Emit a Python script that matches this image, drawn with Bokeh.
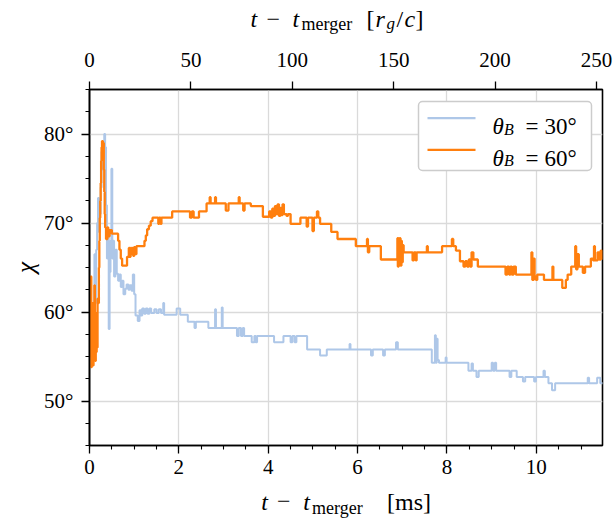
from bokeh.plotting import figure
from bokeh.layouts import column
from bokeh.models import (Range1d, LinearAxis, FixedTicker, SingleIntervalTicker,
                          PrintfTickFormatter, Label, BoxAnnotation, Arrow)
from bokeh.embed import file_html
from bokeh.resources import INLINE

# ---------------- data (step series, value holds until next time) ----------------
t30 = [0.05, 0.07, 0.09, 0.11, 0.13, 0.15, 0.17, 0.19, 0.21, 0.23, 0.25, 0.27, 0.29, 0.31,
       0.33, 0.35, 0.37, 0.39, 0.41, 0.43, 0.45, 0.47, 0.49, 0.51, 0.53, 0.55, 0.58, 0.61,
       0.64, 0.67, 0.70, 0.73, 0.76, 0.80, 0.83, 0.87, 0.90, 0.94, 0.97, 1.00, 1.03, 1.08,
       1.12, 1.15, 1.18, 1.22, 1.26, 1.30, 1.34, 1.38, 1.45, 1.50, 1.55, 1.60, 1.65, 1.67,
       1.95, 2.03, 2.20, 2.35, 2.38, 2.66, 2.81, 2.83, 2.96, 2.98, 3.30, 3.34, 3.39, 3.43,
       3.46, 3.63, 3.69, 3.72, 3.75, 4.13, 4.34, 4.50, 4.54, 4.59, 4.63, 4.87, 5.16, 5.31,
       5.82, 5.84, 6.30, 6.34, 6.57, 6.61, 6.86, 6.90, 7.66, 7.73, 7.75, 7.77, 7.79, 7.82,
       7.97, 7.99, 8.48, 8.55, 8.58, 8.66, 8.71, 9.00, 9.03, 9.07, 9.10, 9.40, 9.44, 9.56,
       9.70, 9.75, 9.95, 9.99, 10.16, 10.19, 10.27, 10.35, 10.42, 11.15, 11.18, 11.36,
       11.43, 11.50]
chi30 = [59.0, 61.0, 58.5, 66.5, 61.0, 67.0, 70.0, 72.8, 69.0, 71.0, 74.0, 78.0, 76.0, 79.0,
         80.0, 78.5, 72.0, 66.0, 69.0, 58.1, 64.5, 68.0, 76.1, 66.0, 68.0, 64.0, 67.0, 64.3,
         63.5, 64.2, 62.8, 63.5, 62.0, 62.6, 63.1, 62.5, 63.0, 62.4, 64.2, 62.0, 59.6, 59.0,
         60.2, 59.6, 60.4, 59.8, 60.4, 59.8, 60.4, 59.9, 60.3, 59.9, 60.3, 59.9, 61.0, 59.7,
         60.4, 59.7, 58.9, 58.2, 58.9, 58.2, 60.3, 58.2, 60.5, 58.2, 57.3, 58.2, 57.3, 58.2,
         57.3, 56.6, 57.3, 56.6, 57.3, 56.6, 57.3, 56.6, 57.3, 56.6, 57.3, 55.8, 55.1, 55.8,
         56.4, 55.8, 55.1, 55.8, 55.1, 55.8, 56.6, 55.8, 54.3, 57.4, 54.3, 57.0, 54.6, 54.3,
         54.9, 54.3, 53.4, 54.2, 53.4, 52.7, 53.4, 54.3, 53.4, 54.3, 53.4, 52.7, 53.4, 52.7,
         52.2, 52.7, 52.2, 52.7, 53.4, 52.7, 52.0, 51.2, 52.0, 52.6, 52.0, 52.6,
         52.0, 52.0]

t60 = [0.00, 0.01, 0.02, 0.03, 0.04, 0.05, 0.06, 0.07, 0.08, 0.09, 0.10, 0.11, 0.12, 0.13,
       0.14, 0.15, 0.16, 0.17, 0.18, 0.20, 0.21, 0.22, 0.23, 0.24, 0.25, 0.26, 0.27, 0.28,
       0.30, 0.31, 0.32, 0.33, 0.34, 0.35, 0.37, 0.40, 0.42, 0.45, 0.50, 0.64, 0.67, 0.70,
       0.73, 0.84, 0.88, 0.90, 0.92, 0.94, 0.96, 0.98, 1.00, 1.02, 1.05, 1.23, 1.26, 1.29,
       1.33, 1.37, 1.41, 1.54, 1.56, 1.59, 1.61, 1.85, 2.25, 2.29, 2.33, 2.45, 2.62, 2.69,
       2.71, 2.81, 2.83, 3.05, 3.11, 3.34, 3.36, 3.44, 3.47, 3.61, 3.88, 4.02, 4.06, 4.09,
       4.12, 4.15, 4.18, 4.21, 4.24, 4.27, 4.30, 4.32, 4.35, 4.41, 4.44, 4.50, 4.72, 4.86,
       4.89, 4.99, 5.02, 5.09, 5.12, 5.16, 5.41, 5.55, 5.96, 6.21, 6.23, 6.26, 6.52, 6.89,
       6.90, 6.92, 6.93, 6.95, 6.96, 6.98, 6.99, 7.01, 7.03, 7.23, 7.26, 7.30, 7.32, 7.55,
       7.57, 7.89, 8.11, 8.14, 8.20, 8.29, 8.37, 8.41, 8.45, 8.49, 8.52, 8.55, 8.59, 8.69,
       9.31, 9.35, 9.39, 9.42, 9.45, 9.49, 9.54, 9.89, 9.91, 9.94, 9.96, 9.99, 10.02, 10.17,
       10.36, 10.38, 10.58, 10.66, 10.70, 10.78, 10.87, 10.89, 10.92, 10.95, 11.04, 11.09,
       11.22, 11.27, 11.29, 11.31, 11.37, 11.41, 11.44, 11.47, 11.50]
chi60 = [58.0, 62.5, 55.0, 64.0, 53.8, 60.0, 56.5, 61.0, 54.0, 58.0, 55.0, 63.0, 56.0, 54.5,
         59.0, 55.5, 60.0, 56.0, 61.5, 61.0, 65.0, 68.0, 70.6, 72.5, 74.5, 77.0, 78.5, 79.2,
         78.0, 79.0, 76.0, 73.5, 71.0, 69.5, 68.2, 69.5, 68.5, 69.2, 68.8, 68.0, 67.0, 66.0,
         65.2, 66.2, 67.2, 66.2, 67.2, 66.5, 67.2, 66.3, 67.3, 66.5, 67.4, 68.0, 68.6, 69.3,
         69.7, 70.2, 70.6, 69.9, 70.6, 69.9, 70.6, 71.3, 70.6, 71.3, 70.6, 71.3, 72.2, 72.9,
         72.2, 72.9, 72.2, 71.4, 72.2, 72.9, 72.2, 71.4, 72.2, 71.9, 70.7, 71.3, 70.6, 71.6,
         70.8, 71.9, 71.0, 72.1, 70.8, 71.7, 70.9, 72.1, 71.0, 70.8, 71.0, 69.9, 70.6, 69.6,
         70.6, 69.1, 70.6, 71.3, 70.6, 69.9, 69.0, 68.2, 67.4, 68.2, 66.7, 67.4, 65.9, 68.3,
         65.1, 68.3, 65.5, 68.3, 65.2, 68.0, 65.6, 67.5, 66.7, 65.8, 66.7, 65.8, 66.7, 67.4,
         66.7, 67.4, 68.2, 67.4, 66.9, 65.7, 65.1, 65.7, 65.1, 65.9, 65.1, 66.7, 65.9, 65.1,
         64.2, 65.1, 64.2, 65.1, 64.2, 65.1, 64.2, 66.7, 63.6, 66.0, 64.0, 63.6, 64.2, 63.6,
         65.1, 63.6, 62.7, 63.6, 64.2, 65.1, 67.4, 64.8, 66.5, 65.1, 64.4, 65.1,
         66.0, 65.8, 67.4, 65.8, 66.7, 65.9, 66.9, 66.0, 66.7]

series_labels = ["30°", "60°"]
series_colors = ["#aec7e8", "#ff7f0e"]
x_tick_interval_ms = 2
top_ticks = [0, 50, 100, 150, 200, 250]
y_ticks = [50, 60, 70, 80]
y_minor = [45, 47.5, 52.5, 55, 57.5, 62.5, 65, 67.5, 72.5, 75, 77.5, 82.5, 85]
x_max_ms = 11.48
rg_per_ms = 22.04

FONT = "Liberation Serif"
W = 615
H_TOP, H_MAIN, H_BOT = 40, 446, 38
FRAME_L, FRAME_R, FRAME_T, FRAME_H = 89, 602, 89, 356  # page pixels of the plot frame

# ---------------- main plot ----------------
p = figure(width=W, height=H_MAIN, x_range=Range1d(0, x_max_ms), y_range=Range1d(45, 85),
           output_backend="svg", toolbar_location=None, title_location=None,
           min_border_left=FRAME_L, min_border_right=W - FRAME_R,
           min_border_top=FRAME_T - H_TOP, min_border_bottom=H_MAIN - (FRAME_T - H_TOP) - FRAME_H)
p.extra_x_ranges = {"top": Range1d(0, x_max_ms * rg_per_ms)}
p.outline_line_color = "black"
p.outline_line_width = 1.6
p.outline_line_alpha = 1.0

bottom = p.below[0]
left = p.left[0]
bottom.ticker = SingleIntervalTicker(interval=x_tick_interval_ms, num_minor_ticks=4)
left.ticker = FixedTicker(ticks=y_ticks, minor_ticks=y_minor)
left.formatter = PrintfTickFormatter(format="%d°")
left.axis_label = "χ"
left.axis_label_text_font = FONT
left.axis_label_text_font_style = "italic"
left.axis_label_text_font_size = "25px"
left.axis_label_text_color = "black"
left.axis_label_standoff = 2

top = LinearAxis(x_range_name="top", ticker=FixedTicker(ticks=top_ticks, minor_ticks=[]))
p.add_layout(top, "above")

for ax in (bottom, left, top):
    ax.axis_line_width = 1.6
    ax.axis_line_color = "black"
    ax.major_tick_out = 8
    ax.major_tick_in = 0
    ax.minor_tick_out = 4
    ax.minor_tick_in = 0
    ax.major_tick_line_width = 1.3
    ax.minor_tick_line_width = 1.1
    ax.major_tick_line_color = "black"
    ax.minor_tick_line_color = "black"
    ax.major_label_text_font = FONT
    ax.major_label_text_font_size = "21px"
    ax.major_label_text_color = "black"
bottom.major_label_standoff = 6
left.major_label_standoff = 8
top.major_label_standoff = 15

p.xgrid.grid_line_color = "#dadada"
p.xgrid.grid_line_width = 1.3
p.ygrid.grid_line_color = "#dadada"
p.ygrid.grid_line_width = 1.3

r30 = p.step(t30, chi30, mode="after", line_color=series_colors[0], line_width=2.0)
r60 = p.step(t60, chi60, mode="after", line_color=series_colors[1], line_width=2.3)


def sx(x_abs):
    return x_abs - FRAME_L


def sy(y_abs):
    return FRAME_H - (y_abs - FRAME_T)


# ---------------- legend (box, sample lines, texts) ----------------
p.add_layout(BoxAnnotation(left=sx(418), right=sx(591), top=sy(101), bottom=sy(170),
                           left_units="screen", right_units="screen",
                           top_units="screen", bottom_units="screen",
                           fill_color="white", fill_alpha=1.0, line_color="#cccccc",
                           line_width=1.5, line_alpha=1.0, border_radius=4,
                           level="annotation"))


def lbl(text, x_abs, y_abs, size, style="normal"):
    p.add_layout(Label(x=sx(x_abs), y=sy(y_abs), x_units="screen", y_units="screen",
                       text=text, text_font=FONT, text_font_size=f"{size}px",
                       text_font_style=style, text_align="left", text_baseline="alphabetic",
                       text_color="black", level="overlay"))


for i, (lab, col) in enumerate(zip(series_labels, series_colors)):
    yc = 117.7 + 31.6 * i
    p.add_layout(Arrow(x_start=sx(427), y_start=sy(yc), x_end=sx(475), y_end=sy(yc),
                       start_units="screen", end_units="screen", start=None, end=None,
                       line_color=col, line_width=2.2, level="overlay"))
    base = yc + 8.3
    lbl("θ", 492, base, 23, "italic")
    lbl("B", 503.5, base + 2.5, 16, "italic")
    lbl("=", 525, base, 23)
    lbl(lab, 544, base, 23)


# ---------------- strips for the composite axis titles ----------------
# (the column layout aligns the strips' frames with the main frame: page x 89..602)
def strip(h):
    s = figure(width=W, height=h, x_range=Range1d(FRAME_L, FRAME_R), y_range=Range1d(h, 0),
               output_backend="svg", toolbar_location=None, title_location=None,
               x_axis_type=None, y_axis_type=None, min_border=0, min_border_left=FRAME_L,
               min_border_right=W - FRAME_R, min_border_top=0, min_border_bottom=0,
               outline_line_color=None)
    s.xgrid.visible = False
    s.ygrid.visible = False
    return s


def piece(s, text, x, y, size, style="normal"):
    s.add_layout(Label(x=x, y=y, text=text, text_font=FONT, text_font_size=f"{size}px",
                       text_font_style=style, text_align="left", text_baseline="alphabetic",
                       text_color="black"))


top_strip = strip(H_TOP)
BT, ST = 18.5, 23.5
piece(top_strip, "t", 250, BT, 24, "italic")
piece(top_strip, "−", 266, BT, 24)
piece(top_strip, "t", 292, BT, 24, "italic")
piece(top_strip, "merger", 301, ST, 18)
piece(top_strip, "[", 366, BT, 24)
piece(top_strip, "r", 375, BT, 24, "italic")
piece(top_strip, "g", 386, ST - 1, 17, "italic")
piece(top_strip, "/", 396, BT, 24)
piece(top_strip, "c", 404, BT, 24, "italic")
piece(top_strip, "]", 415, BT, 24)

bot_strip = strip(H_BOT)
BB, SB = 15, 21
piece(bot_strip, "t", 260.7, BB, 24, "italic")
piece(bot_strip, "−", 276.5, BB, 24)
piece(bot_strip, "t", 302.7, BB, 24, "italic")
piece(bot_strip, "merger", 311.5, SB, 18)
piece(bot_strip, "[ms]", 386.5, BB, 24)

layout = column(top_strip, p, bot_strip, spacing=0)
open("out.html", "w").write(file_html(layout, INLINE))
